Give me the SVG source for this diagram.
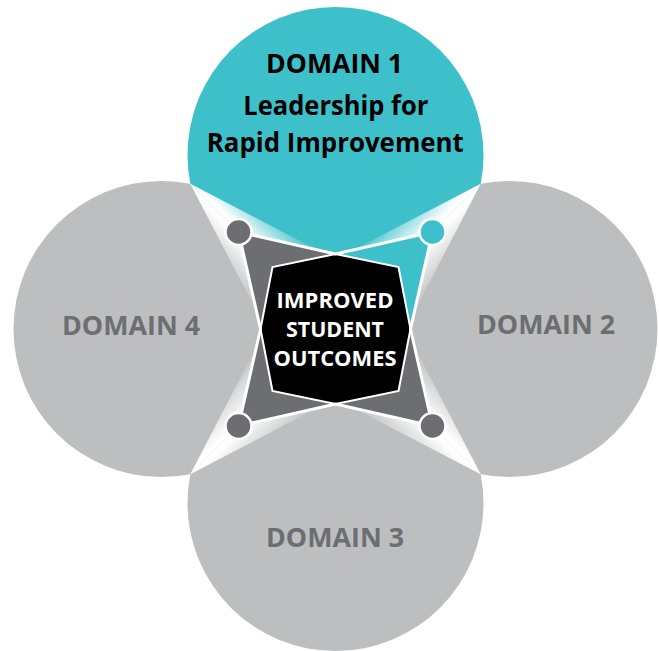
<svg xmlns="http://www.w3.org/2000/svg" width="659" height="651" viewBox="0 0 659 651">
  <style>
    .teal { fill: #3ec0cb; }
    .grey { fill: #bcbec0; }
    .dark { fill: #6d6e71; }
    .lbl { font-family: "Open Sans", "Noto Sans", sans-serif; font-weight: bold; text-anchor: middle; }
    .dom { font-size: 26px; fill: #6d6e71; }
    .d1 { font-size: 26px; fill: #000000; }
    .ctr { font-size: 21px; fill: #ffffff; }
    .edge { fill: none; stroke: #ffffff; stroke-width: 3; stroke-linejoin: miter; }
    .dot { stroke: #ffffff; stroke-width: 2.5; }
  </style>
  <defs>
    <clipPath id="secTop"><polygon points="335.5,329 -664.5,-671 1335.5,-671"/></clipPath>
    <clipPath id="secRight"><polygon points="335.5,329 1335.5,-671 1335.5,1329"/></clipPath>
    <clipPath id="secBottom"><polygon points="335.5,329 1335.5,1329 -664.5,1329"/></clipPath>
    <clipPath id="secLeft"><polygon points="335.5,329 -664.5,1329 -664.5,-671"/></clipPath>
    <linearGradient id="gTLt" gradientUnits="userSpaceOnUse" x1="238.5" y1="232" x2="269.6" y2="200.9"><stop offset="0.08" stop-color="#ffffff"/><stop offset="1" stop-color="#3ec0cb"/></linearGradient>
    <linearGradient id="gTRt" gradientUnits="userSpaceOnUse" x1="432.5" y1="232" x2="401.4" y2="200.9"><stop offset="0.08" stop-color="#ffffff"/><stop offset="1" stop-color="#3ec0cb"/></linearGradient>
    <linearGradient id="gTLg" gradientUnits="userSpaceOnUse" x1="238.5" y1="232" x2="207.4" y2="263.1"><stop offset="0.08" stop-color="#ffffff"/><stop offset="1" stop-color="#bcbec0"/></linearGradient>
    <linearGradient id="gTRg" gradientUnits="userSpaceOnUse" x1="432.5" y1="232" x2="463.6" y2="263.1"><stop offset="0.08" stop-color="#ffffff"/><stop offset="1" stop-color="#bcbec0"/></linearGradient>
    <linearGradient id="gBRr" gradientUnits="userSpaceOnUse" x1="432.5" y1="426" x2="463.6" y2="394.9"><stop offset="0.08" stop-color="#ffffff"/><stop offset="1" stop-color="#bcbec0"/></linearGradient>
    <linearGradient id="gBRb" gradientUnits="userSpaceOnUse" x1="432.5" y1="426" x2="401.4" y2="457.1"><stop offset="0.08" stop-color="#ffffff"/><stop offset="1" stop-color="#bcbec0"/></linearGradient>
    <linearGradient id="gBLb" gradientUnits="userSpaceOnUse" x1="238.5" y1="426" x2="269.6" y2="457.1"><stop offset="0.08" stop-color="#ffffff"/><stop offset="1" stop-color="#bcbec0"/></linearGradient>
    <linearGradient id="gBLl" gradientUnits="userSpaceOnUse" x1="238.5" y1="426" x2="207.4" y2="394.9"><stop offset="0.08" stop-color="#ffffff"/><stop offset="1" stop-color="#bcbec0"/></linearGradient>
  </defs>

  <rect x="0" y="0" width="659" height="651" fill="#ffffff"/>

  <g id="domain1">
    <circle class="teal" cx="335.5" cy="155" r="148" clip-path="url(#secTop)"/>
  </g>
  <g id="domain2">
    <circle class="grey" cx="509.5" cy="329" r="148" clip-path="url(#secRight)"/>
  </g>
  <g id="domain3">
    <circle class="grey" cx="335.5" cy="503" r="148" clip-path="url(#secBottom)"/>
  </g>
  <g id="domain4">
    <circle class="grey" cx="161.5" cy="329" r="148" clip-path="url(#secLeft)"/>
  </g>

  <g id="overlaps">
    <polygon points="190.3,183.8 316.5,249.5 238.5,232" fill="url(#gTLt)"/>
    <polygon points="190.3,183.8 256,310 238.5,232" fill="url(#gTLg)"/>
    <polygon points="480.7,183.8 354.5,249.5 432.5,232" fill="url(#gTRt)"/>
    <polygon points="480.7,183.8 415,310 432.5,232" fill="url(#gTRg)"/>
    <polygon points="480.7,474.2 415,348 432.5,426" fill="url(#gBRr)"/>
    <polygon points="480.7,474.2 354.5,408.5 432.5,426" fill="url(#gBRb)"/>
    <polygon points="190.3,474.2 316.5,408.5 238.5,426" fill="url(#gBLb)"/>
    <polygon points="190.3,474.2 256,348 238.5,426" fill="url(#gBLl)"/>
  </g>

  <g id="center">
    <polygon class="dark" points="238.5,232 335.5,254 432.5,232 410.5,329 432.5,426 335.5,404 238.5,426 260.5,329"/>
    <polygon class="teal" points="432.5,232 335.5,254 410.5,329"/>
    <polygon points="335.5,254 398.5,267 410.5,329 398.5,391 335.5,404 272.5,391 260.5,329 272.5,267" fill="#000000" stroke="#ffffff" stroke-width="2"/>
  </g>

  <g id="connectors">
    <polygon class="edge" points="238.5,232 335.5,254 432.5,232 410.5,329 432.5,426 335.5,404 238.5,426 260.5,329"/>
  </g>

  <g id="nodes-dots">
    <circle id="dot-tl" class="dark dot" cx="238.5" cy="232" r="13"/>
    <circle id="dot-tr" class="teal dot" cx="432.5" cy="232" r="13"/>
    <circle id="dot-br" class="dark dot" cx="432.5" cy="426" r="13"/>
    <circle id="dot-bl" class="dark dot" cx="238.5" cy="426" r="13"/>
  </g>

  <g id="labels">
    <text class="lbl d1" x="334.5" y="73.3" textLength="137" lengthAdjust="spacingAndGlyphs">DOMAIN 1</text>
    <text class="lbl d1" x="335.8" y="115" textLength="185" lengthAdjust="spacingAndGlyphs">Leadership for</text>
    <text class="lbl d1" x="335.3" y="151.7" textLength="257" lengthAdjust="spacingAndGlyphs">Rapid Improvement</text>
    <text class="lbl dom" x="546" y="334.3" textLength="138" lengthAdjust="spacingAndGlyphs">DOMAIN 2</text>
    <text class="lbl dom" x="335" y="546.7" textLength="138" lengthAdjust="spacingAndGlyphs">DOMAIN 3</text>
    <text class="lbl dom" x="131" y="335" textLength="138" lengthAdjust="spacingAndGlyphs">DOMAIN 4</text>
    <text class="lbl ctr" x="335" y="308.3" textLength="117" lengthAdjust="spacingAndGlyphs">IMPROVED</text>
    <text class="lbl ctr" x="335" y="336.7" textLength="98" lengthAdjust="spacingAndGlyphs">STUDENT</text>
    <text class="lbl ctr" x="335" y="366" textLength="123" lengthAdjust="spacingAndGlyphs">OUTCOMES</text>
  </g>
</svg>
